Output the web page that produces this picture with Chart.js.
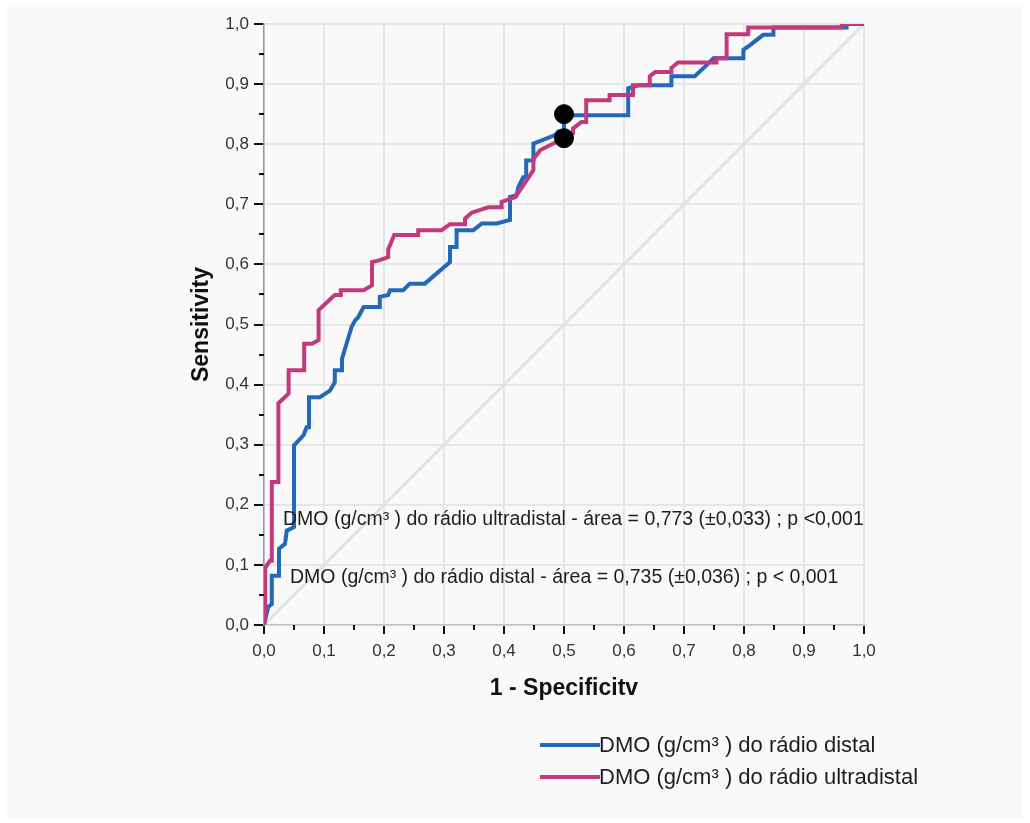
<!DOCTYPE html>
<html>
<head>
<meta charset="utf-8">
<script src="https://cdn.jsdelivr.net/npm/chart.js@4.4.1/dist/chart.umd.min.js"></script>
<style>
  html, body { margin: 0; padding: 0; background: #fff; }
  #wrap  { position: relative; width: 1030px; height: 823px; }
  #panel { position: absolute; left: 7px; top: 5px; width: 1016px; height: 813px; background: #f9f9f9; }
  #roc   { position: absolute; left: 0; top: 0; }
</style>
</head>
<body>
<div id="wrap">
  <div id="panel"></div>
  <canvas id="roc" width="1030" height="823"></canvas>
</div>
<script>
'use strict';

/* ── 데이터 ── */
const SERIES_LABELS = ['DMO (g/cm³ ) do rádio distal', 'DMO (g/cm³ ) do rádio ultradistal'];

// DMO do rádio distal (azul)
const distalX = [0, 0.007, 0.013, 0.013, 0.025, 0.025, 0.035, 0.038, 0.05, 0.05, 0.066, 0.071, 0.075, 0.075,
  0.093, 0.11, 0.118, 0.118, 0.13, 0.13, 0.146, 0.152, 0.157, 0.166, 0.193, 0.193, 0.207, 0.21, 0.232, 0.243,
  0.268, 0.31, 0.31, 0.321, 0.321, 0.349, 0.363, 0.388, 0.41, 0.41, 0.421, 0.424, 0.432, 0.437, 0.437, 0.449,
  0.449, 0.465, 0.485, 0.49, 0.5, 0.5, 0.607, 0.607, 0.624, 0.679, 0.679, 0.718, 0.735, 0.749, 0.799, 0.799,
  0.81, 0.832, 0.849, 0.849, 0.971, 0.971, 1.0];
const distalY = [0, 0.03, 0.035, 0.082, 0.082, 0.127, 0.135, 0.157, 0.163, 0.299, 0.316, 0.329, 0.329, 0.379,
  0.379, 0.39, 0.404, 0.424, 0.424, 0.443, 0.496, 0.507, 0.512, 0.529, 0.529, 0.546, 0.549, 0.557, 0.557, 0.568,
  0.568, 0.604, 0.629, 0.629, 0.657, 0.657, 0.668, 0.668, 0.674, 0.712, 0.715, 0.729, 0.745, 0.745, 0.773, 0.773,
  0.801, 0.807, 0.815, 0.821, 0.821, 0.848, 0.848, 0.893, 0.898, 0.898, 0.913, 0.913, 0.929, 0.943, 0.943, 0.957,
  0.965, 0.982, 0.982, 0.994, 0.994, 1.0, 1.0];

// DMO do rádio ultradistal (magenta)
const ultraX = [0, 0.002, 0.002, 0.01, 0.013, 0.013, 0.024, 0.024, 0.041, 0.041, 0.067, 0.067, 0.08, 0.091,
  0.091, 0.118, 0.128, 0.128, 0.166, 0.18, 0.18, 0.193, 0.207, 0.207, 0.217, 0.257, 0.257, 0.296, 0.31, 0.335,
  0.335, 0.346, 0.374, 0.396, 0.396, 0.419, 0.449, 0.449, 0.46, 0.488, 0.515, 0.515, 0.529, 0.537, 0.537, 0.576,
  0.576, 0.615, 0.615, 0.643, 0.643, 0.652, 0.679, 0.679, 0.69, 0.754, 0.754, 0.771, 0.771, 0.807, 0.807,
  0.963, 0.963, 1.0];
const ultraY = [0, 0.02, 0.095, 0.107, 0.107, 0.238, 0.238, 0.369, 0.385, 0.424, 0.424, 0.468, 0.468, 0.474,
  0.524, 0.549, 0.549, 0.557, 0.557, 0.565, 0.604, 0.607, 0.612, 0.625, 0.649, 0.649, 0.657, 0.657, 0.667, 0.667,
  0.676, 0.686, 0.695, 0.695, 0.704, 0.712, 0.757, 0.775, 0.79, 0.804, 0.818, 0.826, 0.837, 0.837, 0.873, 0.873,
  0.882, 0.882, 0.898, 0.898, 0.913, 0.92, 0.92, 0.927, 0.936, 0.936, 0.943, 0.943, 0.983, 0.983, 0.994,
  0.994, 1.0, 1.0];

// 기준선 및 절단점
const refX = [0, 1];
const refY = [0, 1];
const cutX = [0.5, 0.5];
const cutY = [0.85, 0.81];

const AXIS_TICKS = [0, 0.1, 0.2, 0.3, 0.4, 0.5, 0.6, 0.7, 0.8, 0.9, 1.0];
const NOTES = [
  'DMO (g/cm³ ) do rádio ultradistal - área = 0,773 (±0,033) ; p <0,001',
  'DMO (g/cm³ ) do rádio distal - área = 0,735 (±0,036) ; p < 0,001',
];

const COLORS = {
  distal: '#2368ba',
  ultra : '#c2397d',
  ref   : '#e2e2e2',
  grid  : '#e6e6e6',
  text  : '#1e1e1e',
};

const FONT = '"Liberation Sans", Arial, sans-serif';
Chart.defaults.font.family = FONT;
Chart.defaults.color = COLORS.text;

const toPoints = (xs, ys) => xs.map((x, i) => ({ x, y: ys[i] }));
const fmt = v => v.toFixed(1).replace('.', ',');

/* ── 보조 눈금 / 주석 / 범례 ── */
const extras = {
  id: 'extras',
  afterDraw(chart) {
    const { ctx, scales: { x, y } } = chart;
    ctx.save();
    ctx.strokeStyle = '#111';
    ctx.lineWidth = 2;
    for (let i = 0; i < AXIS_TICKS.length - 1; i++) {
      const v = (AXIS_TICKS[i] + AXIS_TICKS[i + 1]) / 2;
      const px = Math.round(x.getPixelForValue(v));
      ctx.beginPath(); ctx.moveTo(px, x.top); ctx.lineTo(px, x.top + 5); ctx.stroke();
      const py = Math.round(y.getPixelForValue(v));
      ctx.beginPath(); ctx.moveTo(y.right, py); ctx.lineTo(y.right - 5, py); ctx.stroke();
    }

    ctx.fillStyle = COLORS.text;
    ctx.textBaseline = 'middle';
    ctx.font = '19.5px ' + FONT;
    ctx.fillText(NOTES[0], 283, 520);
    ctx.fillText(NOTES[1], 290, 578);

    // 범례
    ctx.font = '22px ' + FONT;
    [[COLORS.distal, SERIES_LABELS[0], 745], [COLORS.ultra, SERIES_LABELS[1], 777]].forEach(([c, label, ly]) => {
      ctx.strokeStyle = c;
      ctx.lineWidth = 4;
      ctx.beginPath(); ctx.moveTo(540, ly); ctx.lineTo(600, ly); ctx.stroke();
      ctx.fillText(label, 599, ly + 1);
    });
    ctx.restore();
  },
};

const gridOpts = {
  color: COLORS.grid,
  lineWidth: 2,
  tickColor: '#111',
  tickWidth: 2,
};

new Chart(document.getElementById('roc'), {
  type: 'line',
  data: {
    datasets: [
      {
        label: 'cut',
        data: toPoints(cutX, cutY),
        showLine: false,
        pointRadius: 9.5,
        pointBackgroundColor: '#000',
        pointBorderColor: '#000',
      },
      {
        label: SERIES_LABELS[1],
        data: toPoints(ultraX, ultraY),
        borderColor: COLORS.ultra,
        borderWidth: 4,
        pointRadius: 0,
        tension: 0,
      },
      {
        label: SERIES_LABELS[0],
        data: toPoints(distalX, distalY),
        borderColor: COLORS.distal,
        borderWidth: 4,
        pointRadius: 0,
        tension: 0,
      },
      {
        label: 'ref',
        data: toPoints(refX, refY),
        borderColor: COLORS.ref,
        borderWidth: 3,
        pointRadius: 0,
      },
    ],
  },
  options: {
    responsive: false,
    animation: false,
    layout: { padding: { left: 180, top: 24, right: 166, bottom: 0 } },
    plugins: { legend: { display: false }, tooltip: { enabled: false } },
    scales: {
      x: {
        type: 'linear', min: 0, max: 1,
        afterFit: s => { s.height = 198; },
        afterBuildTicks: s => { s.ticks = AXIS_TICKS.map(v => ({ value: v })); },
        grid: { ...gridOpts, tickLength: 9 },
        border: { color: '#c4c4c4', width: 1.5 },
        ticks: { callback: v => fmt(v), font: { size: 17 }, padding: 7, maxRotation: 0, autoSkip: false, color: '#333' },
        title: { display: true, text: '1 - Specificitv', font: { size: 23, weight: 'bold' }, color: '#111', padding: { top: 0, bottom: 121 } },
      },
      y: {
        type: 'linear', min: 0, max: 1,
        afterFit: s => { s.width = 84; },
        afterBuildTicks: s => { s.ticks = AXIS_TICKS.map(v => ({ value: v })); },
        grid: { ...gridOpts, tickLength: 10 },
        border: { color: '#9a9a9a', width: 1.5 },
        ticks: { callback: v => fmt(v), font: { size: 17 }, padding: 5, autoSkip: false, color: '#333' },
        title: { display: true, text: 'Sensitivity', font: { size: 23, weight: 'bold' }, color: '#111', padding: { top: 8, bottom: 0 } },
      },
    },
  },
  plugins: [extras],
});
</script>
</body>
</html>
